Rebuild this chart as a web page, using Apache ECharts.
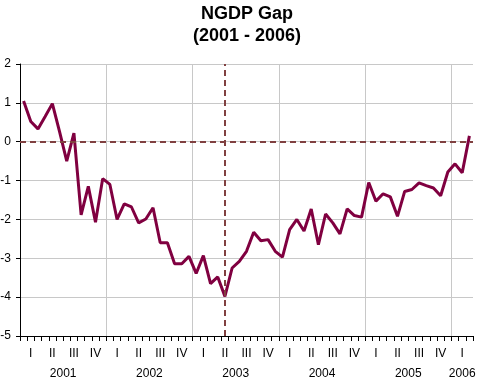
<!DOCTYPE html>
<html>
<head>
<meta charset="utf-8">
<script src="https://cdn.jsdelivr.net/npm/echarts@6/dist/echarts.min.js"></script>
<style>html,body{margin:0;padding:0;background:#fff;}#c{width:479px;height:382px;}</style>
</head>
<body>
<div id="c"></div>
<script>
// ---- data ----
const years = ['2001', '2002', '2003', '2004', '2005', '2006'];
const quarterLabels = ['I', 'II', 'III', 'IV'];
const monthNames = ['Jan','Feb','Mar','Apr','May','Jun','Jul','Aug','Sep','Oct','Nov','Dec'];
const lastMonthCount = 3; // 2006: Jan-Mar
const months = [];
years.forEach(function (y, yi) {
  const n = yi === years.length - 1 ? lastMonthCount : 12;
  for (let m = 0; m < n; m++) months.push(y + ' ' + monthNames[m]);
});
const ngdpGap = [
  1.05, 0.52, 0.33, 0.65, 0.98, 0.26, -0.5, 0.22, -1.88, -1.15, -2.07, -0.95,
  -1.1, -2.0, -1.6, -1.68, -2.09, -1.99, -1.7, -2.6, -2.6, -3.14, -3.14, -2.95,
  -3.39, -2.93, -3.65, -3.48, -3.98, -3.25, -3.08, -2.82, -2.33, -2.55, -2.52, -2.82,
  -2.97, -2.26, -2.0, -2.3, -1.73, -2.65, -1.86, -2.09, -2.37, -1.73, -1.9, -1.94,
  -1.05, -1.53, -1.34, -1.42, -1.92, -1.28, -1.23, -1.06, -1.13, -1.19, -1.39, -0.78,
  -0.57, -0.8, 0.15
];
const markMonth = '2003 May';
const markLevel = 0;

// ---- derived axis helpers ----
const nMonths = months.length;
const yearBoundaries = [];
const yearCenters = [];
years.forEach(function (y, yi) {
  const start = yi * 12;
  const end = Math.min(start + 12, nMonths);
  yearCenters.push((start + end) / 2);
  if (yi > 0) yearBoundaries.push(start);
});

const font = 'Liberation Sans, Arial, sans-serif';
const chart = echarts.init(document.getElementById('c'));
chart.setOption({
  animation: false,
  backgroundColor: '#fff',
  title: {
    text: 'NGDP Gap\n(2001 - 2006)',
    left: 247, top: 3, padding: 0, textAlign: 'center',
    textStyle: { fontFamily: font, fontSize: 18, fontWeight: 'bold', color: '#000', lineHeight: 22 }
  },
  grid: { left: 20, right: 6, top: 64, bottom: 46, containLabel: false, outerBoundsMode: 'none' },
  xAxis: [
    {
      type: 'category',
      data: months,
      boundaryGap: true,
      position: 'bottom',
      axisLine: { show: true, onZero: false, lineStyle: { color: '#000', width: 1 } },
      axisTick: { show: true, interval: 0, length: 5, lineStyle: { color: '#000' } },
      axisLabel: {
        interval: function (idx) { return idx % 3 === 1; },
        formatter: function (v, idx) { return quarterLabels[Math.floor(idx / 3) % 4]; },
        margin: 12, color: '#000', fontFamily: font, fontSize: 12
      },
      splitLine: { show: false }
    },
    {
      type: 'value',
      min: 0, max: nMonths,
      position: 'bottom',
      axisLine: { show: false },
      axisTick: { show: false, customValues: yearBoundaries },
      axisLabel: {
        customValues: yearCenters,
        formatter: function (v) { return years[Math.floor(v / 12)]; },
        margin: 32, color: '#000', fontFamily: font, fontSize: 12
      },
      splitLine: { show: true, lineStyle: { color: '#c8c8c8', width: 1 } }
    }
  ],
  yAxis: {
    type: 'value',
    min: -5, max: 2, interval: 1,
    axisLine: { show: true, lineStyle: { color: '#000' } },
    axisTick: { show: true, length: 4, lineStyle: { color: '#000' } },
    axisLabel: { margin: 9, color: '#000', fontFamily: font, fontSize: 12 },
    splitLine: { show: true, lineStyle: { color: '#c8c8c8', width: 1 } }
  },
  series: [{
    type: 'line',
    xAxisIndex: 0,
    data: ngdpGap,
    showSymbol: false,
    symbol: 'none',
    lineStyle: { color: '#800040', width: 3 },
    markLine: {
      silent: true,
      symbol: 'none',
      label: { show: false },
      lineStyle: { color: '#804040', width: 2, type: [6, 4] },
      data: [{ xAxis: markMonth }, { yAxis: markLevel }]
    }
  }]
});
</script>
</body>
</html>
